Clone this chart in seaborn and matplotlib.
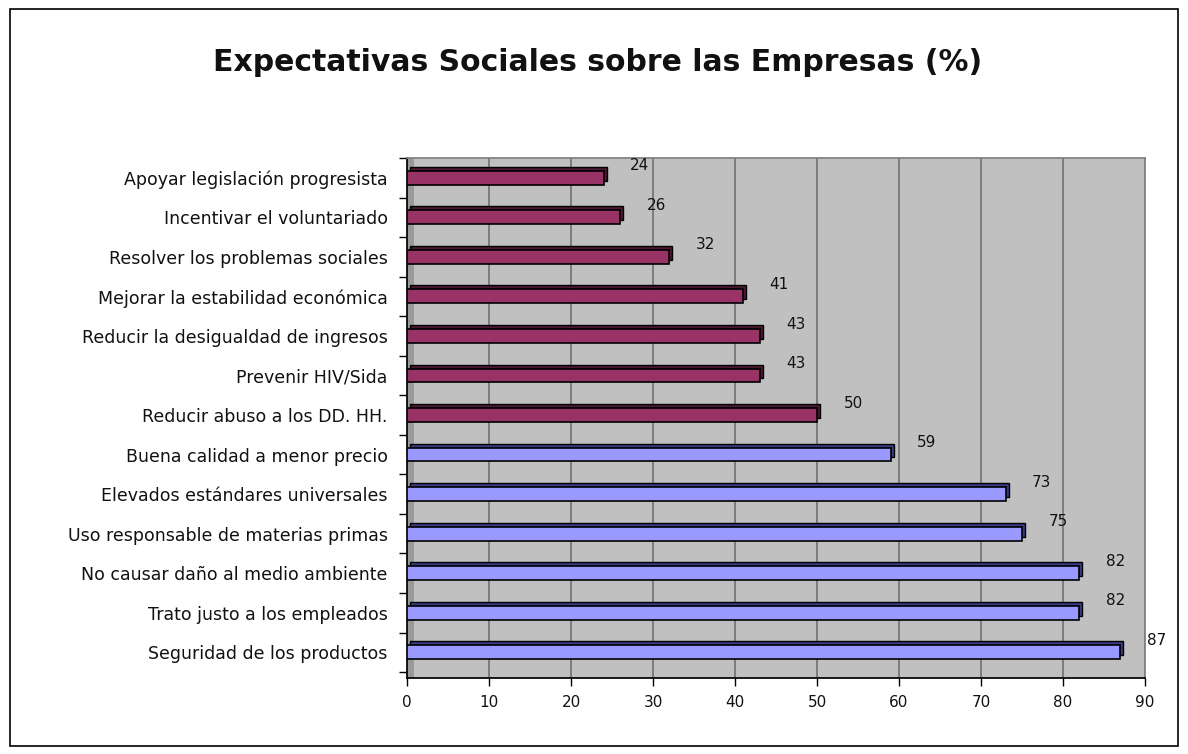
import matplotlib
matplotlib.use("Agg")
import matplotlib.pyplot as plt
import matplotlib.transforms as mtransforms
from matplotlib.patches import Rectangle
import seaborn as sns
import pandas as pd

categories = [
    "Apoyar legislación progresista",
    "Incentivar el voluntariado",
    "Resolver los problemas sociales",
    "Mejorar la estabilidad económica",
    "Reducir la desigualdad de ingresos",
    "Prevenir HIV/Sida",
    "Reducir abuso a los DD. HH.",
    "Buena calidad a menor precio",
    "Elevados estándares universales",
    "Uso responsable de materias primas",
    "No causar daño al medio ambiente",
    "Trato justo a los empleados",
    "Seguridad de los productos",
]
values = [24, 26, 32, 41, 43, 43, 50, 59, 73, 75, 82, 82, 87]
groups = ["social"] * 7 + ["basic"] * 6
title = "Expectativas Sociales sobre las Empresas (%)"
xticks = [0, 10, 20, 30, 40, 50, 60, 70, 80, 90]

df = pd.DataFrame({"cat": categories, "val": values, "grp": groups})

sns.set_theme(style="white")
plt.rcParams["font.family"] = ["DejaVu Sans"]

fig = plt.figure(figsize=(11.88, 7.54), dpi=100)
fig.patch.set_facecolor("white")
fig.patches.append(Rectangle((0.008, 0.01), 0.984, 0.978, transform=fig.transFigure,
                             fill=False, edgecolor="black", linewidth=1.2))

ax = fig.add_axes([0.3426, 0.1008, 0.6212, 0.6897])
ax.set_facecolor("#C0C0C0")

palette = {"social": "#993366", "basic": "#9999FF"}
shadow = {"social": "#4A1830", "basic": "#3A3A80"}

# left wall strip (3D look)
ax.axvspan(0, 0.9, color="#9A9A9A", zorder=1, linewidth=0)

# shadow (3D side) bars
off = mtransforms.offset_copy(ax.transData, fig=fig, x=3, y=4, units="dots")
for i, (v, g) in enumerate(zip(values, groups)):
    ax.barh(i, v, height=0.35, color=shadow[g], edgecolor="black", linewidth=1,
            transform=off, zorder=2)

sns.barplot(data=df, y="cat", x="val", hue="grp", palette=palette, orient="h",
            width=0.35, edgecolor="black", linewidth=1.2, dodge=False,
            legend=False, ax=ax, zorder=3, saturation=1)

for i, v in enumerate(values):
    ax.text(v + 4.4, i - 0.3, f"{v}", fontsize=11, ha="center", va="center",
            color="#111111", zorder=4)

ax.set_xlim(0, 90)
ax.set_ylim(12.65, -0.48)
ax.set_xticks(xticks)
ax.set_xticklabels([str(t) for t in xticks], fontsize=11)
ax.set_yticks(range(len(categories)))
ax.set_yticklabels(categories, fontsize=12.5, color="#111111")
ax.set_xlabel("")
ax.set_ylabel("")
ax.grid(axis="x", color="#707070", linewidth=1.2, zorder=0)
ax.set_axisbelow(True)
for s in ["top", "right"]:
    ax.spines[s].set_color("#808080")
ax.spines["left"].set_color("black")
ax.spines["bottom"].set_color("black")
ax.tick_params(axis="x", length=6, width=1, color="black", bottom=True, pad=6,
               labelcolor="#111111")
ax.tick_params(axis="y", length=0, pad=14)
# category boundary ticks on the y axis
ax.set_yticks([i + 0.5 for i in range(-1, len(categories))], minor=True)
ax.tick_params(axis="y", which="minor", length=6, width=1, color="black", left=True)

fig.text(0.503, 0.917, title, fontsize=21.5, fontweight="bold", ha="center",
         va="center", color="#111111")

fig.savefig("out.png", dpi=100)
